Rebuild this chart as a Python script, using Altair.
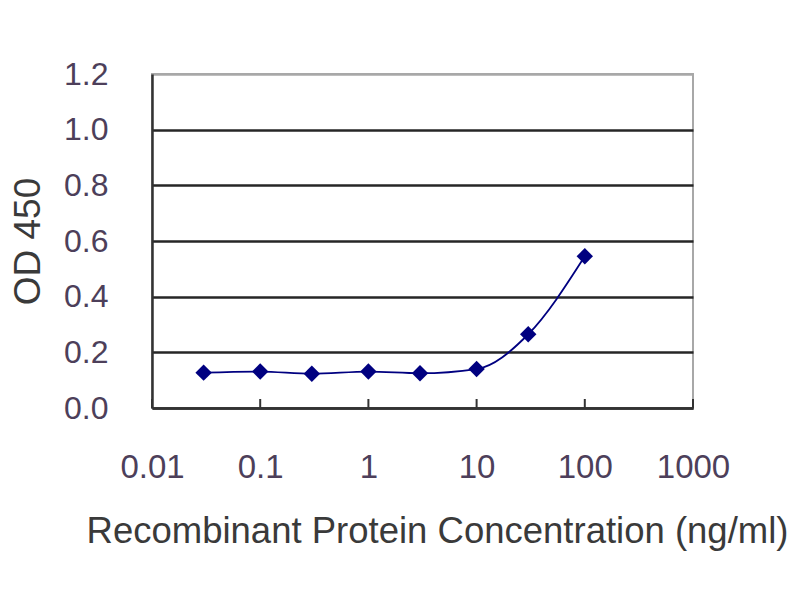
import altair as alt
import pandas as pd

conc = [0.03, 0.1, 0.3, 1, 3, 10, 30, 100]
od450 = [0.127, 0.131, 0.123, 0.131, 0.125, 0.14, 0.265, 0.545]
x_ticks = [0.01, 0.1, 1, 10, 100, 1000]
y_ticks = [0.0, 0.2, 0.4, 0.6, 0.8, 1.0, 1.2]

df = pd.DataFrame({"conc": conc, "od": od450})
tick_df = pd.DataFrame({"t": x_ticks})

FONT = "Liberation Sans"
NAVY = "#000080"

xscale = alt.Scale(type="log", domain=[0.01, 1000], nice=False)
yscale = alt.Scale(domain=[0, 1.2], nice=False, zero=True)

xaxis = alt.Axis(
    values=x_ticks, format="~g", title="Recombinant Protein Concentration  (ng/ml)",
    grid=False, ticks=False, labelPadding=43, labelFontSize=33, labelFont=FONT,
    labelColor="#4d3f5a", titleFontSize=36.5, titleFont=FONT, titleFontWeight="normal",
    titleColor="#3a3a3a", titlePadding=29, titleX=285, domainColor="#333333", domainWidth=2.5,
    labelFlush=False,
)
yaxis = alt.Axis(
    values=y_ticks, format=".1f", title="OD 450", grid=True,
    gridColor={"condition": {"test": "datum.value > 1.1", "value": "#a8a8a8"}, "value": "#262626"},
    gridWidth=2.3, ticks=False, labelPadding=44, labelFontSize=32, labelFont=FONT,
    labelColor="#4d3f5a", titleFontSize=37, titleFont=FONT, titleFontWeight="normal",
    titleColor="#3a3a3a", titlePadding=16, domainColor="#333333", domainWidth=2.5,
)

base = alt.Chart(df)

line = base.mark_line(color=NAVY, strokeWidth=1.8, interpolate="monotone").encode(
    x=alt.X("conc:Q", scale=xscale, axis=xaxis),
    y=alt.Y("od:Q", scale=yscale, axis=yaxis),
)
points = base.mark_point(shape="diamond", filled=True, color=NAVY, size=270, opacity=1).encode(
    x=alt.X("conc:Q", scale=xscale),
    y=alt.Y("od:Q", scale=yscale),
)
ticks = alt.Chart(tick_df).mark_rule(color="#333333", strokeWidth=2).encode(
    x=alt.X("t:Q", scale=xscale),
    y=alt.value(334),
    y2=alt.value(325),
)

chart = alt.layer(line, ticks, points).properties(
    width=541, height=334,
    autosize=alt.AutoSizeParams(type="none"),
    padding={"left": 144, "top": 66, "right": 99, "bottom": 184},
    background="white",
).configure_view(stroke="#a8a8a8", strokeWidth=2)

chart.save("out.html", embed_options={"renderer": "svg", "actions": False})
